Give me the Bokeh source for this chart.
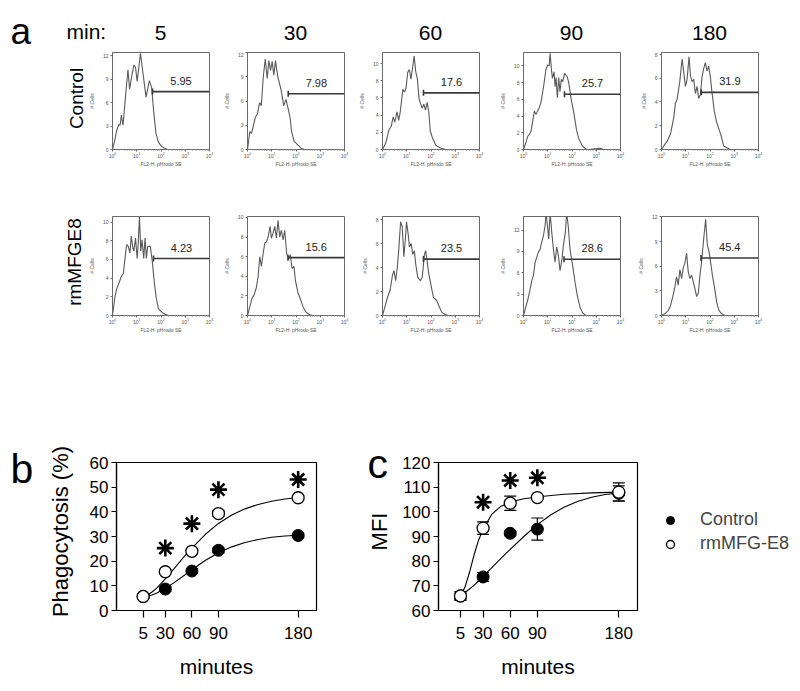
import math
from bokeh.plotting import figure
from bokeh.layouts import column, row
from bokeh.models import Range1d, FixedTicker, Whisker, ColumnDataSource, Legend, LegendItem, TeeHead
from bokeh.core.properties import value
from bokeh.embed import file_html
from bokeh.resources import INLINE

FONT = "Liberation Sans"

# ---------------- data ----------------
time_labels = ["5", "30", "60", "90", "180"]
row_labels = ["Control", "rmMFGE8"]

# panel a histograms: x = log10(FL2-H) in decades, y = # cells
c5_x = [0, .095, .163, .258, .312, .366, .434, .529, .637, .705, .8, .881, .949, 1.017, 1.153, 1.288, 1.383, 1.519, 1.614, 1.695, 1.79, 1.885, 1.993, 2.129, 2.264, 4.0]
c5_y = [0, 1.2, 2.3, 3.2, 3.1, 4.4, 3.1, 6.5, 10.2, 7.7, 9.5, 10.8, 10.5, 8.7, 12.3, 9.0, 6.7, 8.8, 7.9, 5.0, 2.1, 1.0, 0.5, 0.2, 0, 0]
c30_x = [0, .095, .163, .231, .325, .407, .502, .569, .651, .732, .813, .881, .949, 1.017, 1.085, 1.153, 1.248, 1.383, 1.492, 1.586, 1.681, 1.763, 1.817, 1.925, 2.061, 2.197, 2.332, 4.0]
c30_y = [0, 2.2, 2.0, 2.8, 4.0, 4.4, 5.8, 5.4, 9.0, 11.2, 8.8, 11.0, 9.8, 10.9, 9.2, 11.0, 9.0, 7.4, 5.4, 6.2, 5.0, 3.8, 2.2, 1.0, 0.6, 0.2, 0, 0]
c60_x = [0, .133, .267, .36, .44, .507, .6, .667, .733, .84, .907, .973, 1.04, 1.107, 1.173, 1.24, 1.307, 1.373, 1.44, 1.507, 1.573, 1.64, 1.707, 1.773, 1.84, 1.907, 1.973, 2.067, 2.2, 2.333, 2.467, 2.6, 4.0]
c60_y = [0, .75, 2.3, 2.7, 3.8, 3.2, 4.4, 3.4, 4.4, 7.0, 6.7, 7.2, 9.0, 9.3, 8.2, 9.5, 10.9, 9.0, 8.2, 5.9, 5.3, 4.8, 5.3, 4.6, 5.5, 4.4, 2.1, 1.3, .5, .27, .1, 0, 0]
c90_x = [0, .108, .176, .244, .312, .38, .447, .515, .583, .651, .719, .827, .922, .99, 1.058, 1.098, 1.153, 1.193, 1.261, 1.302, 1.342, 1.397, 1.451, 1.505, 1.559, 1.614, 1.695, 1.803, 1.871, 1.966, 2.075, 2.183, 2.278, 2.414, 2.549, 2.685, 3.024, 3.159, 3.295, 4.0]
c90_y = [0, .9, 1.6, 1.8, 2.2, 3.4, 4.6, 4.2, 4.6, 5.0, 5.6, 7.5, 9.5, 10.1, 10.0, 11.5, 9.5, 8.5, 9.3, 7.5, 8.6, 6.2, 8.6, 6.9, 8.4, 8.1, 9.1, 8.7, 7.9, 6.0, 4.4, 2.4, 1.3, .5, .1, 0, .1, .15, 0, 0]
c180_x = [0, .096, .233, .37, .507, .575, .644, .753, .849, .918, .986, 1.055, 1.137, 1.192, 1.26, 1.329, 1.397, 1.466, 1.534, 1.603, 1.671, 1.74, 1.808, 1.877, 1.945, 2.014, 2.082, 2.178, 2.26, 2.356, 2.452, 2.562, 2.699, 2.836, 4.0]
c180_y = [0, .3, .7, 1.3, 2.7, 3.9, 4.2, 5.7, 7.6, 6.5, 5.3, 5.9, 7.8, 6.2, 5.7, 5.9, 4.7, 5.3, 4.3, 4.6, 6.1, 6.8, 7.3, 6.6, 7.0, 6.1, 4.8, 3.2, 2.4, 1.8, 1.2, .3, .14, 0, 0]

r5_x = [0, .095, .176, .271, .366, .447, .502, .583, .651, .719, .773, .841, .881, .949, 1.017, 1.058, 1.112, 1.166, 1.22, 1.288, 1.342, 1.397, 1.451, 1.559, 1.641, 1.722, 1.803, 1.898, 2.034, 2.169, 2.305, 4.0]
r5_y = [0, 1.9, 2.9, 3.5, 4.2, 4.5, 5.8, 7.6, 7.4, 6.7, 8.5, 7.2, 6.9, 8.3, 6.1, 7.6, 10.6, 6.9, 8.1, 6.1, 8.3, 6.1, 7.4, 7.4, 5.8, 3.6, 1.9, .7, .36, .14, 0, 0]
r30_x = [0, .096, .192, .274, .37, .438, .507, .575, .644, .712, .781, .849, .932, .986, 1.055, 1.123, 1.192, 1.26, 1.329, 1.397, 1.466, 1.534, 1.616, 1.699, 1.767, 1.836, 1.918, 1.973, 2.082, 2.192, 2.288, 2.425, 2.562, 2.699, 4.0]
r30_y = [0, .9, 1.8, 2.1, 2.9, 4.0, 6.0, 5.0, 6.3, 7.4, 7.5, 8.0, 9.1, 7.9, 8.4, 9.1, 7.9, 9.7, 8.0, 8.7, 7.7, 8.7, 6.3, 5.8, 6.2, 4.8, 5.0, 3.6, 2.3, 1.6, .9, .3, .07, 0, 0]
r60_x = [0, .095, .203, .312, .407, .475, .542, .61, .678, .746, .814, .881, .949, .99, 1.058, 1.112, 1.18, 1.248, 1.315, 1.369, 1.451, 1.559, 1.641, 1.722, 1.776, 1.831, 1.898, 1.993, 2.102, 2.237, 2.346, 2.441, 2.576, 2.712, 4.0]
r60_y = [0, .7, 1.5, 2.1, 3.3, 3.75, 2.9, 4.0, 5.7, 7.8, 7.4, 4.9, 6.5, 7.8, 6.8, 5.7, 6.0, 5.1, 5.4, 4.3, 3.2, 2.9, 3.2, 5.0, 5.4, 4.7, 3.6, 2.6, 1.5, 1.25, .7, .28, .08, 0, 0]
r90_x = [0, .11, .205, .274, .342, .411, .479, .548, .616, .685, .753, .822, .89, .932, .986, 1.041, 1.096, 1.164, 1.233, 1.301, 1.37, 1.438, 1.507, 1.589, 1.644, 1.726, 1.781, 1.849, 1.918, 2.027, 2.123, 2.219, 2.329, 2.438, 2.575, 4.0]
r90_y = [0, 1.4, 2.6, 3.7, 4.9, 5.6, 7.5, 8.2, 8.9, 9.3, 10.3, 11.2, 12.6, 14.5, 12.6, 10.7, 14.5, 11.7, 9.3, 7.5, 9.6, 8.4, 6.3, 7.9, 9.8, 11.7, 14.5, 12.4, 9.3, 7.0, 4.7, 2.8, 1.2, .37, 0, 0]
r180_x = [0, .138, .276, .372, .483, .566, .621, .69, .759, .828, .897, .966, 1.034, 1.103, 1.172, 1.241, 1.31, 1.379, 1.448, 1.517, 1.586, 1.655, 1.752, 1.821, 1.89, 1.959, 2.028, 2.11, 2.193, 2.276, 2.372, 2.483, 2.621, 4.0]
r180_y = [0, .2, .6, 1.2, 2.5, 3.7, 4.7, 3.7, 5.6, 4.5, 5.8, 6.4, 7.6, 5.3, 4.5, 4.9, 4.1, 3.3, 2.3, 2.7, 4.9, 6.6, 9.7, 11.7, 8.6, 7.8, 6.4, 4.7, 3.3, 1.6, .6, .2, 0, 0]

ctrl_ymax = [12.4, 12.0, 11.3, 11.6, 8.15]
ctrl_yticks = [[0, 3, 6, 9, 12], [0, 3, 6, 9, 12], [0, 2, 4, 6, 8, 10], [0, 2, 4, 6, 8, 10], [0, 2, 4, 6, 8]]
rm_ymax = [10.6, 10.1, 8.25, 13.9, 12.05]
rm_yticks = [[0, 2, 4, 6, 8, 10], [0, 2, 4, 6, 8, 10], [0, 2, 4, 6, 8], [0, 3, 6, 9, 12], [0, 3, 6, 9, 12]]

# gates (start in decades, level in # cells, % positive)
ctrl_gate_start = [1.65, 1.68, 1.69, 1.69, 1.64]
ctrl_gate_level = [7.4, 6.9, 6.6, 6.6, 4.8]
ctrl_gate_pct = ["5.95", "7.98", "17.6", "25.7", "31.9"]
rm_gate_start = [1.69, 1.67, 1.69, 1.67, 1.63]
rm_gate_level = [6.1, 5.9, 4.7, 7.9, 7.0]
rm_gate_pct = ["4.23", "15.6", "23.5", "28.6", "45.4"]

# panel b / c
minutes = [5, 30, 60, 90, 180]
phago_ctrl = [5.7, 8.7, 16.0, 24.4, 30.4]
phago_ctrl_err = [0.6, 0.9, 1.0, 1.0, 0.8]
phago_rm = [5.7, 15.7, 24.0, 39.3, 45.7]
phago_rm_err = [0.6, 0.8, 1.0, 1.2, 0.9]
phago_star_x = [30, 60, 90, 180]
phago_star_y = [25.3, 35.2, 49.0, 53.1]
phago_fit_x = [5, 10, 15, 20, 30, 40, 50, 60, 75, 90, 105, 120, 135, 150, 165, 180]
phago_fit_ctrl = [5.7, 5.9, 6.3, 7.0, 9.0, 11.3, 13.9, 16.5, 20.3, 23.4, 25.8, 27.6, 28.8, 29.7, 30.2, 30.5]
phago_fit_rm = [5.7, 6.3, 7.5, 9.0, 12.8, 17.0, 21.3, 25.3, 30.8, 35.3, 38.7, 41.2, 43.0, 44.3, 45.2, 45.8]

mfi_ctrl = [65.9, 73.6, 91.3, 93.0, 107.5]
mfi_ctrl_err = [1.5, 1.8, 1.0, 4.5, 3.0]
mfi_rm = [65.9, 93.4, 103.5, 105.8, 108.0]
mfi_rm_err = [1.8, 2.5, 2.9, 0.7, 3.7]
mfi_star_x = [30, 60, 90]
mfi_star_y = [103.9, 112.7, 113.8]
mfi_fit_ctrl_x = [5, 10, 15, 20, 30, 40, 50, 60, 75, 90, 105, 120, 135, 150, 165, 180]
mfi_fit_ctrl = [66.0, 67.3, 68.7, 70.2, 73.8, 77.5, 81.2, 84.8, 90.0, 94.8, 98.8, 102.0, 104.3, 105.9, 107.0, 107.6]
mfi_fit_rm_x = [5, 10, 15, 20, 25, 30, 40, 50, 60, 75, 90, 105, 120, 150, 180]
mfi_fit_rm = [66.0, 69.5, 75.5, 82.5, 88.5, 93.0, 99.2, 102.3, 104.0, 105.3, 106.0, 106.6, 107.1, 107.7, 108.0]

# ---------------- layout constants (pixels) ----------------
W = 798
HEADER_H = 52
LABEL_W = 85
CELL_W = [135, 135, 141, 138, 164]
FRAME_OFF = 26
FRAME_W = 98
ROW1_H, ROW1_TOP, ROW1_FH = 144, 0, 97
ROW2_H, ROW2_TOP, ROW2_FH = 144, 20, 99
BC_H = 350
BC_TOP, BC_FH = 122, 148
MID = 0.3465   # baseline offset of a middle-anchored line, in em


def blank_fig(w, h):
    f = figure(width=w, height=h, x_range=Range1d(0, w), y_range=Range1d(h, 0),
               x_axis_location=None, y_axis_location=None, toolbar_location=None,
               output_backend="svg", min_border=0)
    f.min_border_left = f.min_border_right = f.min_border_top = f.min_border_bottom = 0
    f.outline_line_color = None
    f.grid.visible = False
    return f


def txt(f, x, y, s, size, align="left", angle=0.0, baseline_y=True):
    # y is the wanted baseline (horizontal text) or the centre (rotated text)
    yy = y - MID * size if baseline_y else y
    f.text(x=[x], y=[yy], text=[s], text_font=value(FONT), text_font_size=f"{size}px",
           text_align=align, text_baseline="middle", angle=angle, text_color="black")


# header
header = blank_fig(W, HEADER_H)
txt(header, 10, 44, "a", 37)
txt(header, 66, 38.5, "min:", 21)
cx = LABEL_W
for i, lab in enumerate(time_labels):
    txt(header, cx + FRAME_OFF + FRAME_W / 2, 39.5, lab, 21, align="center")
    cx += CELL_W[i]


def hist_fig(i, h_row, ftop, fh, xs_dec, ys, ymax, yticks, g0, glev, gpct):
    cw = CELL_W[i]
    p = figure(width=cw, height=h_row, x_axis_type="log", x_range=Range1d(1, 1e4),
               y_range=Range1d(0, ymax), toolbar_location=None, output_backend="svg",
               min_border_left=FRAME_OFF, min_border_right=cw - FRAME_OFF - FRAME_W,
               min_border_top=ftop, min_border_bottom=h_row - ftop - fh)
    p.grid.visible = False
    p.outline_line_color = "#6a6a6a"
    p.outline_line_width = 1
    xa, ya = p.xaxis[0], p.yaxis[0]
    xa.ticker = FixedTicker(ticks=[1, 10, 100, 1000, 10000],
                            minor_ticks=[k * 10 ** e for e in range(4) for k in range(2, 10)])
    ya.ticker = FixedTicker(ticks=yticks)
    xa.axis_label = "FL2-H: pHrodo SE"
    ya.axis_label = "# Cells"
    for ax in (xa, ya):
        ax.axis_line_color = "#6a6a6a"
        ax.major_tick_line_color = "#6a6a6a"
        ax.minor_tick_line_color = "#8a8a8a"
        ax.major_tick_in = 0
        ax.major_tick_out = 2
        ax.minor_tick_in = 0
        ax.minor_tick_out = 1
        ax.major_label_text_font = FONT
        ax.major_label_text_font_size = "5px"
        ax.major_label_text_color = "#555555"
        ax.axis_label_text_font = FONT
        ax.axis_label_text_font_size = "5px"
        ax.axis_label_text_font_style = "normal"
        ax.axis_label_text_color = "#555555"
    xa.major_label_standoff = 0
    xa.axis_label_standoff = 0
    ya.major_label_standoff = 2
    ya.axis_label_standoff = 5
    p.line([10 ** d for d in xs_dec], ys, line_color="#5a5a5a", line_width=1.1)
    gx = 10 ** g0
    p.line([gx, 1e4], [glev, glev], line_color="#383838", line_width=1.6)
    p.scatter([gx], [glev], marker="dash", angle=math.pi / 2, size=6,
              line_color="#383838", line_width=1.6)
    p.text(x=[10 ** ((g0 + 4) / 2)], y=[glev], text=[gpct], text_align="center",
           text_baseline="middle", y_offset=-11, text_font=value(FONT),
           text_font_size="11px", text_color="#222222")
    return p


ctrl_x = [c5_x, c30_x, c60_x, c90_x, c180_x]
ctrl_y = [c5_y, c30_y, c60_y, c90_y, c180_y]
rm_x = [r5_x, r30_x, r60_x, r90_x, r180_x]
rm_y = [r5_y, r30_y, r60_y, r90_y, r180_y]

lab_top = blank_fig(LABEL_W, ROW1_H)
txt(lab_top, 75.5, 46, row_labels[0], 19, align="center", angle=math.pi / 2, baseline_y=False)
lab_bot = blank_fig(LABEL_W, ROW2_H)
txt(lab_bot, 74, 65.5, row_labels[1], 19, align="center", angle=math.pi / 2, baseline_y=False)

top_figs = [hist_fig(i, ROW1_H, ROW1_TOP, ROW1_FH, ctrl_x[i], ctrl_y[i],
                     ctrl_ymax[i], ctrl_yticks[i], ctrl_gate_start[i], ctrl_gate_level[i],
                     ctrl_gate_pct[i]) for i in range(5)]
bot_figs = [hist_fig(i, ROW2_H, ROW2_TOP, ROW2_FH, rm_x[i], rm_y[i],
                     rm_ymax[i], rm_yticks[i], rm_gate_start[i], rm_gate_level[i],
                     rm_gate_pct[i]) for i in range(5)]


def style_xy(p, yticks):
    p.grid.visible = False
    p.outline_line_color = "black"
    p.outline_line_width = 1.2
    xa, ya = p.xaxis[0], p.yaxis[0]
    xa.ticker = FixedTicker(ticks=minutes)
    ya.ticker = FixedTicker(ticks=yticks)
    for ax in (xa, ya):
        ax.axis_line_color = "black"
        ax.axis_line_width = 1.2
        ax.major_tick_line_color = "black"
        ax.major_tick_line_width = 1.2
        ax.major_tick_in = 0
        ax.minor_tick_line_color = None
        ax.major_label_text_font = FONT
        ax.major_label_text_font_size = "17px"
        ax.major_label_text_color = "black"
    xa.major_tick_out = 7
    xa.major_label_standoff = 9
    ya.major_tick_out = 5
    ya.major_label_standoff = 3
    xa.axis_label = "minutes"
    xa.axis_label_text_font = FONT
    xa.axis_label_text_font_size = "21px"
    xa.axis_label_text_font_style = "normal"
    xa.axis_label_text_color = "black"
    xa.axis_label_standoff = 13


def add_series(p, fx_c, fy_c, fx_r, fy_r, y_c, e_c, y_r, e_r, sx, sy):
    p.line(fx_c, fy_c, line_color="black", line_width=1.1)
    p.line(fx_r, fy_r, line_color="black", line_width=1.1)
    for yy, ee in ((y_c, e_c), (y_r, e_r)):
        src = ColumnDataSource(dict(x=minutes, lo=[a - b for a, b in zip(yy, ee)],
                                    hi=[a + b for a, b in zip(yy, ee)]))
        w = Whisker(source=src, base="x", lower="lo", upper="hi", dimension="height",
                    line_color="black", line_width=1.2, level="underlay",
                    upper_head=TeeHead(size=12, line_color="black", line_width=1.2),
                    lower_head=TeeHead(size=12, line_color="black", line_width=1.2))
        p.add_layout(w)
    p.scatter(minutes, y_c, marker="circle", size=12, fill_color="black", line_color="black")
    p.scatter(minutes, y_r, marker="circle", size=12, fill_color="white", line_color="black",
              line_width=1.3)
    p.scatter(sx, sy, marker="asterisk", size=17, line_color="black", line_width=2.6)


# panel b
txt_b = blank_fig(75, BC_H)
txt(txt_b, 10, 143, "b", 41)
txt(txt_b, 60, 191, "Phagocytosis (%)", 22, align="center", angle=math.pi / 2, baseline_y=False)

pb = figure(width=265, height=BC_H, x_range=Range1d(-25.1, 200.7), y_range=Range1d(0, 60),
            toolbar_location=None, output_backend="svg",
            min_border_left=41, min_border_right=24, min_border_top=BC_TOP,
            min_border_bottom=BC_H - BC_TOP - BC_FH)
style_xy(pb, [0, 10, 20, 30, 40, 50, 60])
add_series(pb, phago_fit_x, phago_fit_ctrl, phago_fit_x, phago_fit_rm,
           phago_ctrl, phago_ctrl_err, phago_rm, phago_rm_err, phago_star_x, phago_star_y)

# panel c
txt_c = blank_fig(52, BC_H)
txt(txt_c, 27, 138, "c", 41)
txt(txt_c, 39, 191, "MFI", 22, align="center", angle=math.pi / 2, baseline_y=False)

pc = figure(width=258, height=BC_H, x_range=Range1d(-19.3, 200.7), y_range=Range1d(60, 120),
            toolbar_location=None, output_backend="svg",
            min_border_left=46, min_border_right=13, min_border_top=BC_TOP,
            min_border_bottom=BC_H - BC_TOP - BC_FH)
style_xy(pc, [60, 70, 80, 90, 100, 110, 120])
add_series(pc, mfi_fit_ctrl_x, mfi_fit_ctrl, mfi_fit_rm_x, mfi_fit_rm,
           mfi_ctrl, mfi_ctrl_err, mfi_rm, mfi_rm_err, mfi_star_x, mfi_star_y)

# legend (same frame as the charts)
lf = figure(width=148, height=BC_H, x_range=Range1d(0, 1), y_range=Range1d(0, 1),
            x_axis_location=None, y_axis_location=None, toolbar_location=None,
            output_backend="svg", min_border_left=0, min_border_right=0,
            min_border_top=BC_TOP, min_border_bottom=BC_H - BC_TOP - BC_FH)
lf.outline_line_color = None
lf.grid.visible = False
d1 = lf.scatter([-5], [-5], marker="circle", size=11, fill_color="black", line_color="black")
d2 = lf.scatter([-5], [-5], marker="circle", size=11, fill_color="white", line_color="black",
                line_width=1.3)
leg = Legend(items=[LegendItem(label="Control", renderers=[d1]),
                    LegendItem(label="rmMFG-E8", renderers=[d2])],
             location=(10, 56), orientation="vertical", padding=0, margin=0, spacing=3,
             glyph_width=20, glyph_height=20, label_height=20, label_standoff=20,
             label_text_font=FONT, label_text_font_size="18px", border_line_color=None,
             background_fill_alpha=0)
lf.add_layout(leg)

mid = row(column(lab_top, lab_bot),
          *[column(top_figs[i], bot_figs[i]) for i in range(5)])
bc = row(column(txt_b), column(pb), column(txt_c), column(pc), column(lf))
layout = column(header, mid, bc)

open("out.html", "w").write(file_html(layout, INLINE))
